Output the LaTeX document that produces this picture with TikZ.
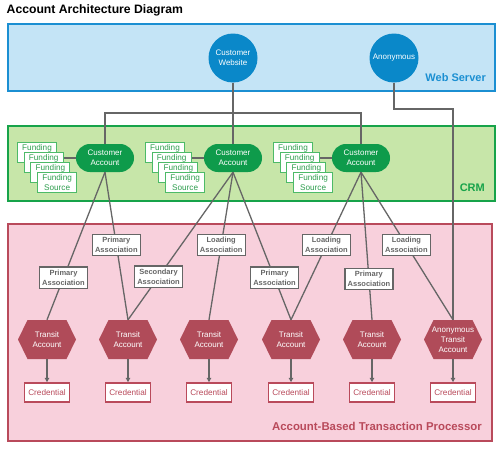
\documentclass[tikz,border=0pt]{standalone}
\usepackage{fontspec}
\setmainfont{Liberation Sans}
\usetikzlibrary{arrows.meta,calc}
\definecolor{webF}{HTML}{C4E4F6}
\definecolor{webB}{HTML}{1B8FD2}
\definecolor{webC}{HTML}{0A88C9}
\definecolor{crmF}{HTML}{C7E6A9}
\definecolor{crmB}{HTML}{17A34A}
\definecolor{crmC}{HTML}{0E9B4B}
\definecolor{fundB}{HTML}{4DBA68}
\definecolor{fundT}{HTML}{2E9E4E}
\definecolor{abF}{HTML}{F8D0DC}
\definecolor{abB}{HTML}{B94A5B}
\definecolor{abC}{HTML}{B04B59}
\definecolor{lineG}{HTML}{666666}
\tikzset{
  region/.style={inner sep=0pt, line width=2pt},
  regionlabel/.style={font=\bfseries\fontsize{11}{13}\selectfont, anchor=east, inner sep=0pt},
  webcircle/.style={circle, fill=webC, minimum size=49pt, inner sep=0pt, text=white, align=center, font=\fontsize{8}{9.7}\selectfont},
  custacct/.style={rectangle, rounded corners=13.9pt, fill=crmC, minimum width=58pt, minimum height=28pt, inner sep=0pt, text=white, align=center, font=\fontsize{8}{9.7}\selectfont},
  fundbox/.style={draw=fundB, line width=1pt, fill=white, minimum width=39pt, minimum height=20pt, inner sep=0pt, text=fundT, align=center, anchor=north west, font=\fontsize{8.2}{9.5}\selectfont},
  hexa/.style={minimum width=58pt, minimum height=39pt, inner sep=0pt, text=white, align=center, font=\fontsize{8}{9.8}\selectfont,
    path picture={\fill[abC] (path picture bounding box.west) -- ([xshift=9.5pt]path picture bounding box.north west) -- ([xshift=-9.5pt]path picture bounding box.north east) -- (path picture bounding box.east) -- ([xshift=-9.5pt]path picture bounding box.south east) -- ([xshift=9.5pt]path picture bounding box.south west) -- cycle;}},
  credbox/.style={draw=abB, line width=1.5pt, fill=white, minimum width=45pt, minimum height=19pt, inner sep=0pt, text=abB, font=\fontsize{8.2}{9.8}\selectfont},
  assoc/.style={draw=lineG, line width=1.3pt, fill=white, minimum width=48pt, minimum height=21.5pt, inner sep=0pt, text=lineG, align=center, font=\bfseries\fontsize{7.5}{9.7}\selectfont},
  conn/.style={draw=lineG, line width=1.3pt},
  credarrow/.style={draw=lineG, line width=1.3pt, -{Triangle[length=4.5pt,width=4.5pt]}}
}
\begin{document}
\begin{tikzpicture}[x=1pt,y=-1pt]
\useasboundingbox (0,0) rectangle (501,450);
% title
\node[anchor=west, inner sep=0pt, font=\bfseries\fontsize{12.2}{14}\selectfont] (title) at (6.5,10) {Account Architecture Diagram};
% regions
\node[region, draw=webB, fill=webF, minimum width=487pt, minimum height=67pt] (web) at (251.5,57.5) {};
\node[region, draw=crmB, fill=crmF, minimum width=487pt, minimum height=75pt] (crm) at (251.5,163.5) {};
\node[region, draw=abB, fill=abF, minimum width=484pt, minimum height=217pt] (abtp) at (250,332.5) {};
\node[regionlabel, text=webB] (weblabel) at (486,78) {Web Server};
\node[regionlabel, text=crmB] (crmlabel) at (485,188) {CRM};
\node[regionlabel, text=abB, font=\bfseries\fontsize{11.4}{13}\selectfont] (ablabel) at (482,426) {Account-Based Transaction Processor};
% web server nodes
\node[webcircle] (cw) at (233,58) {Customer\\Website};
\node[webcircle] (anon) at (394,58) {Anonymous};
% CRM nodes
\foreach \i/\x in {1/105,2/233,3/361}{
  \node[custacct] (ca\i) at (\x,158) {Customer\\Account};
}
\foreach \i/\x in {1/17,2/145,3/273}{
  \node[fundbox] (f\i1) at (\x,142) {Funding\\\phantom{Source}};
  \node[fundbox] (f\i2) at (\x+6.7,152) {Funding\\\phantom{Source}};
  \node[fundbox] (f\i3) at (\x+13.4,162) {Funding\\\phantom{Source}};
  \node[fundbox] (f\i4) at (\x+20.1,172) {Funding\\Source};
}
% ABTP nodes
\node[hexa] (t1) at (47,339.5) {Transit\\Account};
\node[hexa] (t2) at (128,339.5) {Transit\\Account};
\node[hexa] (t3) at (209,339.5) {Transit\\Account};
\node[hexa] (t4) at (291,339.5) {Transit\\Account};
\node[hexa] (t5) at (372,339.5) {Transit\\Account};
\node[hexa] (t6) at (453,339.5) {Anonymous\\Transit\\Account};
\foreach \i/\x in {1/47,2/128,3/209,4/291,5/372,6/453}{
  \node[credbox] (c\i) at (\x,392.5) {Credential};
}
% web connectors
\coordinate (wj) at (233,113);
\coordinate (aj) at (394,109);
\draw[conn] (cw.south) -- (wj);
\draw[conn] (ca1.north) |- (wj) -| (ca3.north);
\draw[conn] (wj) -- (ca2.north);
\draw[conn] (anon.south) -- (aj) -| (t6.north);
% funding connectors
\foreach \i in {1,2,3}{
  \draw[conn] (ca\i.west) -- (ca\i.west -| f\i2.east);
}
% association connectors
\draw[conn] (ca1.south) -- node[assoc, pos=0.716] (a1) {Primary\\Association} (t1.north);
\draw[conn] (ca1.south) -- node[assoc, pos=0.493] (a2) {Primary\\Association} (t2.north);
\draw[conn] (ca2.south) -- node[assoc, pos=0.709] (a3) {Secondary\\Association} (t2.north);
\draw[conn] (ca2.south) -- node[assoc, pos=0.493] (a4) {Loading\\Association} (t3.north);
\draw[conn] (ca2.south) -- node[assoc, pos=0.716] (a5) {Primary\\Association} (t4.north);
\draw[conn] (ca3.south) -- node[assoc, pos=0.493] (a6) {Loading\\Association} (t4.north);
\draw[conn] (ca3.south) -- node[assoc, pos=0.723] (a7) {Primary\\Association} (t5.north);
\draw[conn] (ca3.south) -- node[assoc, pos=0.493] (a8) {Loading\\Association} (t6.north);
% credential arrows
\foreach \i in {1,...,6}{
  \draw[credarrow] (t\i.south) -- (c\i.north);
}
\end{tikzpicture}
\end{document}
